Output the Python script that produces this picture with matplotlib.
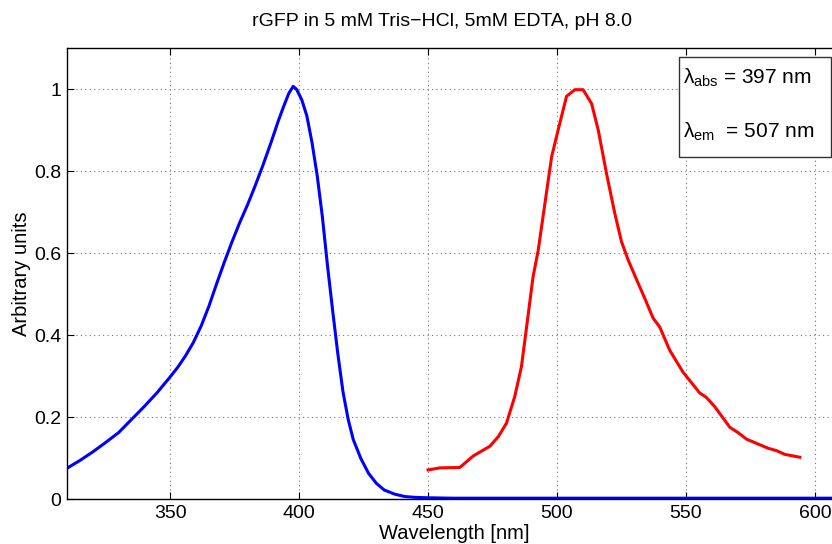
import matplotlib
matplotlib.use('Agg')
from matplotlib import pyplot as plt
from matplotlib.patches import Rectangle

plt.rcParams['font.family'] = ['Liberation Sans', 'DejaVu Sans']
plt.rcParams['mathtext.fontset'] = 'custom'
plt.rcParams['mathtext.rm'] = 'Liberation Sans'
plt.rcParams['mathtext.it'] = 'Liberation Sans'

# absorption spectrum (blue)
abs_wl = [310, 315, 320, 325, 330, 335, 340, 345, 350, 353, 356, 359, 362, 365,
          368, 371, 374, 377, 380, 383, 386, 389, 392, 394, 396, 397.7, 399, 401,
          403, 405, 407, 409, 411, 413, 415, 417, 419, 421, 424, 427, 430, 433,
          437, 441, 445, 450, 460, 480, 520, 560, 610]
abs_val = [0.075, 0.094, 0.115, 0.138, 0.162, 0.194, 0.226, 0.260, 0.298, 0.322,
           0.350, 0.382, 0.422, 0.470, 0.525, 0.578, 0.628, 0.675, 0.718, 0.765,
           0.815, 0.868, 0.924, 0.958, 0.990, 1.007, 1.000, 0.975, 0.935, 0.870,
           0.790, 0.690, 0.570, 0.460, 0.355, 0.262, 0.195, 0.145, 0.098, 0.062,
           0.038, 0.022, 0.012, 0.006, 0.004, 0.003, 0.002, 0.002, 0.002, 0.002,
           0.002]

# emission spectrum (red)
em_wl = [450.0, 454.6, 462.3, 467.5, 474.0, 477.2, 480.4, 483.6, 486.2, 488.2,
         490.7, 492.7, 495.3, 497.9, 500.4, 503.7, 506.9, 510.1, 513.4, 516.0,
         519.2, 522.4, 525.0, 527.6, 531.5, 534.0, 537.3, 539.8, 543.7, 548.8,
         555.3, 557.9, 561.2, 567.0, 570.2, 573.5, 581.8, 585.1, 588.3, 594.1]
em_val = [0.071, 0.076, 0.077, 0.105, 0.129, 0.152, 0.185, 0.250, 0.323, 0.420,
          0.542, 0.607, 0.721, 0.835, 0.900, 0.983, 0.999, 0.999, 0.965, 0.900,
          0.794, 0.697, 0.628, 0.583, 0.526, 0.490, 0.441, 0.420, 0.363, 0.310,
          0.259, 0.248, 0.225, 0.175, 0.162, 0.146, 0.124, 0.118, 0.109, 0.102]

x_ticks = [350, 400, 450, 500, 550, 600]
y_ticks = [0, 0.2, 0.4, 0.6, 0.8, 1.0]
y_ticklabels = ['0', '0.2', '0.4', '0.6', '0.8', '1']

fig = plt.figure(figsize=(8.32, 5.44), dpi=100)
ax = fig.add_axes([0.0805, 0.0827, 0.930, 0.8285])

ax.plot(abs_wl, abs_val, color='#0000ff', lw=2.2)
ax.plot(em_wl, em_val, color='#ff0000', lw=2.2)

ax.set_xlim(310, 610)
ax.set_ylim(0, 1.1)
ax.set_xticks(x_ticks)
ax.set_yticks(y_ticks)
ax.set_yticklabels(y_ticklabels)
ax.tick_params(direction='in', top=True, right=True, length=5, labelsize=14, pad=4)
ax.grid(True, linestyle=(0, (1, 3)), color='#777777', lw=0.8)
for s in ax.spines.values():
    s.set_linewidth(1.0)

ax.set_xlabel('Wavelength [nm]', fontsize=14.5, labelpad=1.5)
ax.set_ylabel('Arbitrary units', fontsize=14.5, labelpad=2)
fig.text(0.531, 0.960, 'rGFP in 5 mM Tris\u2212HCl, 5mM EDTA, pH 8.0', fontsize=14,
         ha='center', va='center')

# annotation box
fig.patches.append(Rectangle((0.816, 0.7114), 0.1827, 0.1838, transform=fig.transFigure,
                             facecolor='white', edgecolor='#333333', lw=1.0, zorder=5))
fig.text(0.821, 0.857, r'$\lambda_{\rm abs}$ = 397 nm', fontsize=15, va='center', zorder=6)
fig.text(0.821, 0.758, r'$\lambda_{\rm em}$  = 507 nm', fontsize=15, va='center', zorder=6)

fig.savefig('out.png', dpi=100)
plt.close()
